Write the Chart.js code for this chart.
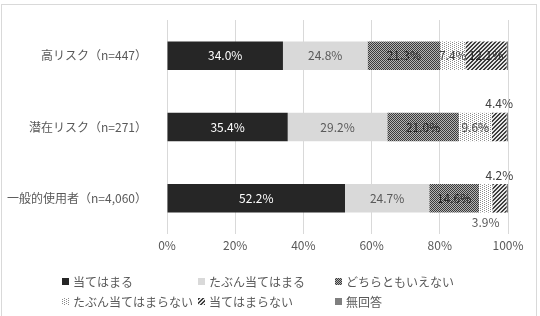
<!DOCTYPE html>
<html><head><meta charset="utf-8">
<script src="https://cdn.jsdelivr.net/npm/chart.js@4"></script>
<style>html,body{margin:0;padding:0;background:#fff}#wrap{width:540px;height:316px;position:relative}</style>
</head><body><div id="wrap"><canvas id="c" width="540" height="316"></canvas></div>
<script>
const categories = ['高リスク（n=447）', '潜在リスク（n=271）', '一般的使用者（n=4,060）'];
const seriesNames = ['当てはまる', 'たぶん当てはまる', 'どちらともいえない', 'たぶん当てはまらない', '当てはまらない', '無回答'];
const applies = [34.0, 35.4, 52.2];
const probablyApplies = [24.8, 29.2, 24.7];
const neither = [21.3, 21.0, 14.6];
const probablyNot = [7.4, 9.6, 3.9];
const notApply = [12.1, 4.4, 4.2];
const noAnswer = [0.4, 0.4, 0.4];
const xTicks = [0, 20, 40, 60, 80, 100];

const FONT = "'Noto Sans CJK JP', 'Noto Sans', sans-serif";

function makePattern(size, draw) {
  const c = document.createElement('canvas');
  c.width = size; c.height = size;
  const x = c.getContext('2d');
  draw(x);
  return x.createPattern(c, 'repeat');
}
const pNeither = makePattern(2, x => {
  x.fillStyle = '#b4b4b4'; x.fillRect(0, 0, 2, 2);
  x.fillStyle = '#3a3a3a'; x.fillRect(0, 0, 1, 1); x.fillRect(1, 1, 1, 1);
});
const pProbNot = makePattern(4, x => {
  x.fillStyle = '#ffffff'; x.fillRect(0, 0, 4, 4);
  x.fillStyle = '#8a8a8a';
  x.fillRect(0, 0, 1, 1); x.fillRect(2, 1, 1, 1); x.fillRect(0, 2, 1, 1); x.fillRect(2, 3, 1, 1);
});
const pNot = makePattern(4, x => {
  x.fillStyle = '#e6e6e6'; x.fillRect(0, 0, 4, 4);
  x.fillStyle = '#3f3f3f';
  for (let i = 0; i < 4; i++) for (let j = 0; j < 4; j++) if ((i + j) % 4 < 2) x.fillRect(i, j, 1, 1);
});

const fills = ['#262626', '#d9d9d9', pNeither, pProbNot, pNot, '#7f7f7f'];
const labelColors = ['#ffffff', '#595959', '#262626', '#404040', '#262626', '#404040'];
const values = [applies, probablyApplies, neither, probablyNot, notApply, noAnswer];
// label placement: 'in' default, 'above', 'below', 'none'
const placement = {
  '4-1': 'above', '4-2': 'above', '3-2': 'below',
  '5-0': 'none', '5-1': 'none', '5-2': 'none'
};

const labelPlugin = {
  id: 'labels',
  afterDatasetsDraw(chart) {
    const ctx = chart.ctx;
    ctx.save();
    ctx.font = '12px ' + FONT;
    ctx.textAlign = 'center';
    ctx.textBaseline = 'middle';
    chart.data.datasets.forEach((ds, di) => {
      const meta = chart.getDatasetMeta(di);
      meta.data.forEach((el, i) => {
        const pl = placement[di + '-' + i] || 'in';
        if (pl === 'none') return;
        const v = ds.data[i];
        const txt = v.toFixed(1) + '%';
        const cx = (el.x + el.base) / 2;
        let cy = el.y;
        let color = labelColors[di];
        if (pl === 'above') { cy = el.y - el.height / 2 - 9; color = '#404040'; }
        if (pl === 'below') { cy = el.y + el.height / 2 + 10; color = '#595959'; }
        ctx.fillStyle = color;
        ctx.fillText(txt, cx, cy);
      });
    });
    ctx.restore();
  }
};

const legendPlugin = {
  id: 'customLegend',
  afterDraw(chart) {
    const ctx = chart.ctx;
    const cols = [62, 198, 335];
    const rows = [282, 302];
    ctx.save();
    ctx.font = '12px ' + FONT;
    ctx.textBaseline = 'middle';
    ctx.textAlign = 'left';
    chart.data.datasets.forEach((ds, di) => {
      const x = cols[di % 3], y = rows[Math.floor(di / 3)];
      ctx.fillStyle = ds.backgroundColor;
      ctx.fillRect(x, y - 4, 7, 7);
      ctx.fillStyle = '#595959';
      ctx.fillText(ds.label, x + 11, y);
    });
    // outer frame
    ctx.strokeStyle = '#d9d9d9';
    ctx.lineWidth = 1;
    ctx.strokeRect(1.5, 4.5, 535, 330);
    ctx.restore();
  }
};

new Chart(document.getElementById('c'), {
  type: 'bar',
  data: {
    labels: categories,
    datasets: seriesNames.map((n, i) => ({
      label: n,
      data: values[i],
      backgroundColor: fills[i],
      borderWidth: 0,
      barPercentage: 0.4,
      categoryPercentage: 1
    }))
  },
  options: {
    indexAxis: 'y',
    responsive: false,
    animation: false,
    devicePixelRatio: 1,
    layout: { padding: { top: 20, right: 32, left: 0, bottom: 0 } },
    plugins: { legend: { display: false }, tooltip: { enabled: false } },
    scales: {
      x: {
        stacked: true, min: 0, max: 100,
        afterBuildTicks: s => { s.ticks = xTicks.map(v => ({ value: v })); },
        afterFit: s => { s.height = 82; },
        grid: { color: '#d9d9d9', drawTicks: false },
        border: { display: false },
        ticks: { padding: 4, color: '#595959', font: { family: FONT, size: 12 }, callback: v => v + '%' }
      },
      y: {
        stacked: true,
        afterFit: s => { s.width = 167; s.paddingTop = 0; s.paddingBottom = 0; },
        grid: { display: false, drawTicks: false },
        border: { display: false },
        ticks: { padding: 20, color: '#595959', font: { family: FONT, size: 12 } }
      }
    }
  },
  plugins: [labelPlugin, legendPlugin]
});
</script></body></html>
